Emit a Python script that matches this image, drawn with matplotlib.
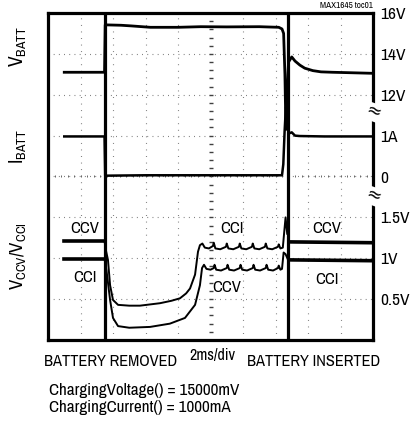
import matplotlib
matplotlib.use("Agg")
import matplotlib.pyplot as plt
import numpy as np

FONT = ['Archivo Narrow', 'DejaVu Sans']
plt.rcParams['font.family'] = FONT
plt.rcParams['mathtext.fontset'] = 'custom'
plt.rcParams['mathtext.rm'] = 'Archivo Narrow'
plt.rcParams['mathtext.it'] = 'Archivo Narrow'

# ---- data (time in ms, 2 ms/div, 10 divisions) ----
event_times = [3.5, 14.77]          # battery removed, battery inserted

# VBATT (V)
vbatt_t = [1.0, 3.48, 3.52, 4.5, 5.1, 6.3, 8.0, 9.4, 11.0, 13.0, 14.2, 14.4, 14.5,
           14.58, 14.64, 14.8, 15.0, 15.2, 15.5, 15.8, 16.3, 16.8, 17.5, 18.5, 19.94]
vbatt_v = [13.1, 13.1, 15.42, 15.4, 15.37, 15.3, 15.3, 15.33, 15.32, 15.33, 15.3, 15.22, 15.0,
           13.0, 10.3, 13.6, 13.85, 13.65, 13.45, 13.3, 13.18, 13.12, 13.1, 13.08, 13.05]

# IBATT (A)
ibatt_t = [1.0, 3.48, 3.52, 6.0, 10.0, 14.4, 14.48, 14.56, 14.64, 14.8, 15.0, 15.2, 15.5, 17.0, 19.94]
ibatt_a = [0.98, 0.98, 0.02, 0.03, 0.03, 0.03, 0.3, 1.1, 1.7, 1.05, 1.08, 1.0, 0.99, 0.98, 0.98]

# VCCV / VCCI (V) - upper trace
upper_pre_t = [1.0, 3.48]
upper_pre_v = [1.21, 1.21]
upper_dip_t = [3.48, 3.56, 3.69, 3.82, 4.0, 4.31, 5.0, 5.66, 6.89, 7.6, 8.12, 8.5, 8.74,
               9.05, 9.23, 9.35, 9.5, 9.65, 9.9, 10.15, 10.2, 10.3, 10.6, 10.95, 11.0,
               11.1, 11.4, 11.75, 11.8, 11.9, 12.2, 12.55, 12.6, 12.7, 13.0, 13.35, 13.4,
               13.5, 13.8, 14.15, 14.2, 14.3, 14.45, 14.55, 14.62, 14.72]
upper_dip_v = [1.21, 1.1, 0.98, 0.67, 0.49, 0.43, 0.42, 0.42, 0.45, 0.48, 0.51, 0.57, 0.63,
               0.8, 1.08, 1.16, 1.18, 1.13, 1.12, 1.15, 1.19, 1.12, 1.11, 1.14, 1.18,
               1.12, 1.11, 1.14, 1.18, 1.12, 1.11, 1.14, 1.18, 1.12, 1.11, 1.14, 1.18,
               1.12, 1.11, 1.14, 1.17, 1.12, 1.13, 1.35, 1.5, 1.3]
upper_post_t = [14.9, 19.94]
upper_post_v = [1.2, 1.19]

# VCCV / VCCI (V) - lower trace
lower_pre_t = [1.0, 3.48]
lower_pre_v = [0.99, 0.99]
lower_dip_t = [3.48, 3.6, 3.82, 4.0, 4.31, 5.0, 6.28, 7.5, 8.43, 9.05, 9.35, 9.48, 9.6,
               9.75, 10.0, 10.2, 10.25, 10.35, 10.65, 11.0, 11.05, 11.15, 11.45, 11.8,
               11.85, 11.95, 12.25, 12.6, 12.65, 12.75, 13.05, 13.4, 13.45, 13.55, 13.85,
               14.15, 14.2, 14.3, 14.4, 14.5, 14.62, 14.75]
lower_dip_v = [0.99, 0.85, 0.49, 0.27, 0.17, 0.15, 0.16, 0.2, 0.27, 0.43, 0.67, 0.88, 0.92,
               0.87, 0.86, 0.88, 0.92, 0.86, 0.85, 0.88, 0.92, 0.86, 0.85, 0.88,
               0.92, 0.86, 0.85, 0.88, 0.92, 0.86, 0.85, 0.88, 0.92, 0.86, 0.85,
               0.88, 0.91, 0.86, 0.87, 1.07, 1.05, 0.99]
lower_post_t = [14.9, 19.94]
lower_post_v = [0.98, 0.97]

# labels
vbatt_ticks = [12, 14, 16]
vbatt_labels = ['12V', '14V', '16V']
ibatt_ticks = [0, 1]
ibatt_labels = ['0', '1A']
vc_ticks = [0.5, 1.0, 1.5]
vc_labels = ['0.5V', '1V', '1.5V']

trace_labels = [('CCV', 2.28, 1.37), ('CCI', 2.28, 0.76),
                ('CCI', 11.3, 1.37), ('CCV', 11.0, 0.64),
                ('CCV', 17.17, 1.37), ('CCI', 17.17, 0.74)]

# ---- figure ----
fig = plt.figure(figsize=(4.11, 4.23), dpi=100)
pos = [48/411, 1-340/423, 325/411, 327/423]

axg = fig.add_axes(pos)           # graticule (divisions)
axv = fig.add_axes(pos)
axi = fig.add_axes(pos)
axc = fig.add_axes(pos)

axg.set_xlim(0, 10)
axg.set_ylim(0, 8)
for a in (axv, axi, axc):
    a.patch.set_alpha(0)
    a.set_xlim(0, 20)
    for s in a.spines.values():
        s.set_visible(False)

# graticule
gcol = '0.45'
for gx in range(1, 10):
    if gx != 5:
        axg.axvline(gx, color=gcol, lw=0.8, ls=(0, (0.8, 5.1)), zorder=1)
for gy in range(1, 8):
    axg.axhline(gy, color=gcol, lw=0.8, ls=(0, (0.8, 3.88)), zorder=1)
cy = np.arange(0.2, 8, 0.2)
axg.plot(np.full_like(cy, 5.0), cy, ls='none', marker='_', ms=3.5, mew=1.0, color='0.25')
cx = np.arange(0.2, 10, 0.2)
axg.plot(cx, np.full_like(cx, 4.0), ls='none', marker='|', ms=2.0, mew=0.7, color='0.4')
axg.set_xticks([]); axg.set_yticks([])
for s in axg.spines.values():
    s.set_linewidth(2.3)
    s.set_zorder(5)

axv.set_ylim(0, 16)
axi.set_ylim(-4, 4)
axc.set_ylim(0, 4)

for a, tk, lb in ((axv, vbatt_ticks, vbatt_labels), (axi, ibatt_ticks, ibatt_labels),
                  (axc, vc_ticks, vc_labels)):
    a.set_yticks(tk)
    a.set_yticklabels(lb)
    a.tick_params(axis='y', left=False, labelleft=False, right=True, labelright=True,
                  length=0, pad=5, labelsize=12.5)
    a.tick_params(axis='x', bottom=False, labelbottom=False)

for et in event_times:
    axv.axvline(et, color='black', lw=2.3, zorder=4)

axv.plot(vbatt_t, vbatt_v, color='black', lw=2.0, solid_joinstyle='round')
axi.plot(ibatt_t, ibatt_a, color='black', lw=1.8, solid_joinstyle='round')

axc.plot(upper_pre_t, upper_pre_v, color='black', lw=2.6)
axc.plot(lower_pre_t, lower_pre_v, color='black', lw=2.6)
axc.plot(upper_dip_t, upper_dip_v, color='black', lw=1.4, solid_joinstyle='round')
axc.plot(lower_dip_t, lower_dip_v, color='black', lw=1.4, solid_joinstyle='round')
axc.plot(upper_post_t, upper_post_v, color='black', lw=2.6)
axc.plot(lower_post_t, lower_post_v, color='black', lw=2.6)

for txt, tx, ty in trace_labels:
    axc.text(tx, ty, txt, ha='center', va='center', fontsize=12)

# axis break marks on right border
for by in (0.697, 0.44):
    axg.text(1.0, by, '≈', transform=axg.transAxes, ha='center', va='center',
             fontsize=13, rotation=-20, zorder=10, clip_on=False, family='DejaVu Sans',
             bbox=dict(boxstyle='square,pad=0.0', fc='white', ec='none'))

# left labels
fig.text(18/411, 1-46/423, r'$\mathrm{V_{BATT}}$', rotation=90, ha='center', va='center', fontsize=14)
fig.text(18/411, 1-147/423, r'$\mathrm{I_{BATT}}$', rotation=90, ha='center', va='center', fontsize=14)
fig.text(18/411, 1-256/423, r'$\mathrm{V_{CCV}/V_{CCI}}$', rotation=90, ha='center', va='center', fontsize=13.5)

fig.text(373/411, 1-6/423, 'MAX1645 toc01', ha='right', va='center', fontsize=6.5)

fig.text(111/411, 1-361/423, 'BATTERY REMOVED', ha='center', va='center', fontsize=11.8)
fig.text(212/411, 1-355/423, '2ms/div', ha='center', va='center', fontsize=11.5)
fig.text(314/411, 1-361/423, 'BATTERY INSERTED', ha='center', va='center', fontsize=11.8)
fig.text(49/411, 1-390/423, 'ChargingVoltage() = 15000mV', ha='left', va='center', fontsize=12.3)
fig.text(49/411, 1-407/423, 'ChargingCurrent() = 1000mA', ha='left', va='center', fontsize=12.3)

fig.savefig('out.png', dpi=100)
